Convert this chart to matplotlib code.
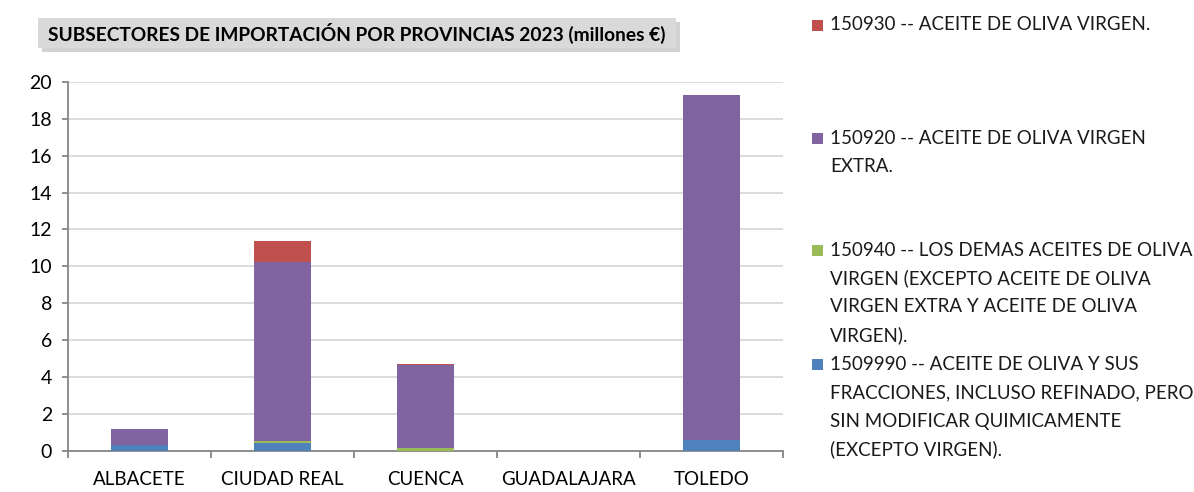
import matplotlib
matplotlib.use("Agg")
import matplotlib.pyplot as plt
import matplotlib.patches as mpatches
import numpy as np

plt.rcParams['font.family'] = ['Lato', 'DejaVu Sans']

# data (millones de euros)
provincias = ["ALBACETE", "CIUDAD REAL", "CUENCA", "GUADALAJARA", "TOLEDO"]
s_1509990 = [0.31, 0.40, 0.00, 0.00, 0.55]
s_150940 = [0.00, 0.13, 0.15, 0.00, 0.00]
s_150920 = [0.87, 9.68, 4.48, 0.00, 18.75]
s_150930 = [0.00, 1.16, 0.08, 0.00, 0.00]

titulo = "SUBSECTORES DE IMPORTACIÓN POR PROVINCIAS 2023 (millones €)"
leyenda = [
    "150930 -- ACEITE DE OLIVA VIRGEN.",
    "150920 -- ACEITE DE OLIVA VIRGEN\nEXTRA.",
    "150940 -- LOS DEMAS ACEITES DE OLIVA\nVIRGEN (EXCEPTO ACEITE DE OLIVA\nVIRGEN EXTRA Y ACEITE DE OLIVA\nVIRGEN).",
    "1509990 -- ACEITE DE OLIVA Y SUS\nFRACCIONES, INCLUSO REFINADO, PERO\nSIN MODIFICAR QUIMICAMENTE\n(EXCEPTO VIRGEN).",
]
colores = ["#C0504D", "#8064A2", "#9BBB59", "#4F81BD"]

W, H = 1194, 492
fig = plt.figure(figsize=(W / 100, H / 100), dpi=100)

def fx(px):
    return px / W

def fy(py):
    return 1 - py / H

ax = fig.add_axes([fx(68), fy(450.5), fx(783) - fx(68), fy(82) - fy(450.5)])

x = np.arange(len(provincias))
series = [s_1509990, s_150940, s_150920, s_150930]
series_col = [colores[3], colores[2], colores[1], colores[0]]
bottom = np.zeros(len(provincias))
for vals, c in zip(series, series_col):
    ax.bar(x, vals, width=0.4, bottom=bottom, color=c, edgecolor='none', zorder=3)
    bottom += np.array(vals)

ax.set_xlim(-0.5, len(provincias) - 0.5)
ax.set_ylim(0, 20)
ax.set_yticks(np.arange(0, 21, 2))
ax.set_xticks(x)
ax.set_xticklabels(provincias)
ax.set_xticks(np.arange(-0.5, len(provincias)), minor=True)

ax.yaxis.grid(True, color='#d9d9d9', linewidth=1.3, zorder=0)
ax.set_axisbelow(True)
for s in ['top', 'right']:
    ax.spines[s].set_visible(False)
for s in ['left', 'bottom']:
    ax.spines[s].set_color('#868686')
    ax.spines[s].set_linewidth(1.3)

ax.tick_params(axis='y', length=4.5, width=1.3, color='#868686', labelsize=14, pad=7)
ax.tick_params(axis='x', which='major', length=0, labelsize=13.5, pad=15)
ax.tick_params(axis='x', which='minor', length=5, width=1.3, color='#868686')

# title box with shadow
fig.patches.append(mpatches.Rectangle((fx(42), fy(51.5)), fx(676) - fx(38), fy(17.7) - fy(47.7),
                                      transform=fig.transFigure, facecolor='#a6a6a6',
                                      edgecolor='none', alpha=0.5, zorder=1))
fig.patches.append(mpatches.Rectangle((fx(38), fy(47.7)), fx(676) - fx(38), fy(17.7) - fy(47.7),
                                      transform=fig.transFigure, facecolor='#d9d9d9',
                                      edgecolor='none', zorder=2))
fig.text(fx(357), fy(33), titulo, ha='center', va='center', fontsize=13.8,
         fontweight='bold', color='black', zorder=3)

# legend
entry_y = [25, 138, 250, 364]
line_h = 28.5
for lab, c, y0 in zip(leyenda, colores, entry_y):
    fig.patches.append(mpatches.Rectangle((fx(812), fy(y0 + 5.5)), fx(11), 11 / H,
                                          transform=fig.transFigure, facecolor=c,
                                          edgecolor='none'))
    for i, line in enumerate(lab.split("\n")):
        fig.text(fx(830), fy(y0 + i * line_h), line, ha='left', va='center',
                 fontsize=13.5, color='#1a1a1a')

fig.savefig("out.png", dpi=100)
